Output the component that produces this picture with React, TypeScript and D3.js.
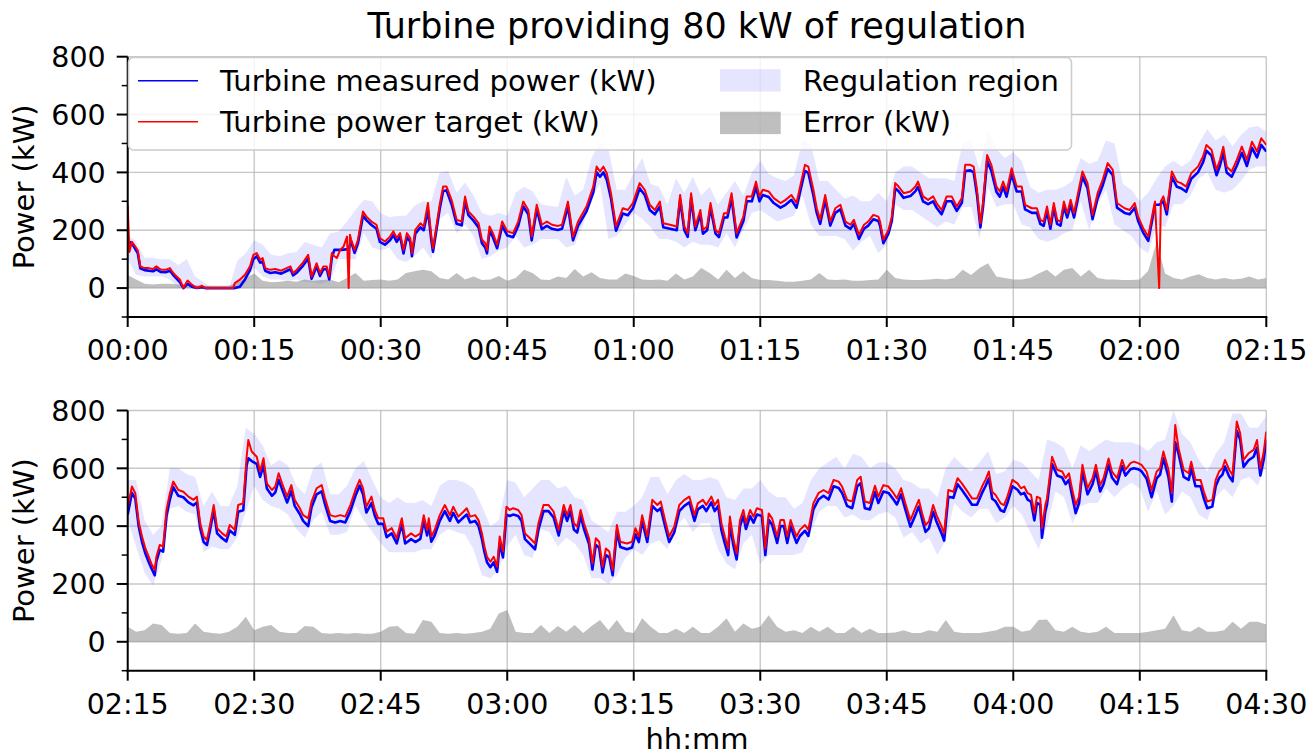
import React from "react";
import * as d3 from "d3";

// ---------- DATA ----------
const title = "Turbine providing 80 kW of regulation";
const yLabel = "Power (kW)";
const xLabel = "hh:mm";
const tickMinutes = [0, 15, 30, 45, 60, 75, 90, 105, 120, 135];
const topTickLabels = ["00:00", "00:15", "00:30", "00:45", "01:00", "01:15", "01:30", "01:45", "02:00", "02:15"];
const bottomTickLabels = ["02:15", "02:30", "02:45", "03:00", "03:15", "03:30", "03:45", "04:00", "04:15", "04:30"];
const yMajorTicks = [0, 200, 400, 600, 800];
const yMinorTicks = [-100, 100, 300, 500, 700];

// [minute, target kW, measured kW]
const topRows: [number, number, number][] = [
  [0, 288, 165], [0.2, 125, 160], [0.5, 160, 155], [0.8, 148, 140], [1.2, 130, 120], [1.5, 75, 68], [2, 69, 62], [2.5, 69, 60],
  [3, 66, 58], [3.4, 75, 65], [3.9, 64, 56], [4.5, 63, 55], [5, 69, 60], [5.4, 52, 45], [5.8, 40, 33], [6.2, 29, 20],
  [6.6, 0, 0], [7.1, 26, 15], [7.6, 12, 5], [8.2, 0, 0], [8.8, 8, 3], [9.2, 0, 0], [12.5, 0, 0], [12.7, 17, 0],
  [13.3, 29, 5], [13.9, 46, 30], [14.5, 75, 62], [14.9, 115, 100], [15.3, 121, 110], [15.7, 98, 88], [16, 104, 92], [16.3, 69, 60],
  [16.9, 63, 52], [17.5, 66, 55], [18.2, 60, 50], [18.9, 70, 60], [19.3, 75, 65], [19.6, 52, 44], [20, 62, 52], [20.4, 75, 65],
  [20.8, 89, 78], [21.4, 115, 102], [21.8, 40, 32], [22.4, 86, 75], [22.8, 52, 42], [23.2, 75, 65], [23.6, 75, 65], [23.9, 40, 30],
  [24.2, 121, 105], [24.5, 110, 132], [24.8, 104, 132], [25.2, 132, 132], [25.6, 144, 133], [26, 178, 134], [26.2, 0, 134], [26.35, 184, 150],
  [26.5, 167, 160], [26.9, 132, 122], [27.3, 167, 155], [27.9, 265, 250], [28.3, 247, 235], [28.9, 230, 218], [29.5, 219, 205], [29.9, 173, 160],
  [30.5, 161, 150], [31.1, 178, 165], [31.5, 196, 183], [31.9, 173, 160], [32.3, 190, 178], [32.7, 132, 120], [33.1, 190, 176], [33.5, 173, 160],
  [33.7, 121, 110], [34.1, 201, 188], [34.7, 224, 210], [35.1, 213, 200], [35.6, 294, 270], [36, 178, 165], [36.2, 138, 125], [36.6, 213, 200],
  [37, 290, 275], [37.4, 351, 335], [37.8, 351, 338], [38.4, 305, 290], [39, 236, 222], [39.6, 230, 217], [40, 317, 300], [40.4, 265, 252],
  [41, 247, 233], [41.6, 224, 210], [42, 167, 155], [42.4, 155, 140], [42.6, 132, 120], [42.9, 213, 198], [43.3, 190, 176], [43.8, 150, 138],
  [44.4, 230, 215], [45, 196, 182], [45.7, 190, 176], [46.3, 230, 215], [46.9, 299, 282], [47.5, 270, 255], [47.9, 178, 165], [48.5, 288, 272],
  [49.1, 219, 204], [49.7, 230, 215], [50.3, 219, 205], [51, 215, 201], [51.5, 219, 205], [52.2, 299, 282], [52.8, 178, 165], [53.4, 230, 215],
  [54.4, 282, 265], [55.2, 351, 330], [55.6, 420, 400], [56, 403, 385], [56.4, 420, 400], [56.8, 397, 375], [57.3, 328, 310], [57.9, 213, 198],
  [58.7, 276, 258], [59.3, 270, 252], [59.9, 294, 276], [60.7, 363, 345], [61.3, 340, 322], [61.9, 288, 270], [62.5, 270, 255], [63.1, 299, 282],
  [63.5, 224, 210], [64.3, 219, 205], [65.1, 213, 200], [65.5, 322, 305], [66, 213, 200], [66.4, 190, 177], [66.8, 328, 310], [67.3, 213, 200],
  [67.9, 270, 255], [68.2, 201, 188], [68.7, 213, 200], [69.1, 294, 278], [69.7, 201, 188], [70.1, 190, 176], [70.7, 259, 244], [71.1, 259, 244],
  [71.6, 328, 310], [72.2, 190, 175], [73, 247, 232], [73.4, 317, 300], [74, 317, 300], [74.5, 368, 350], [74.9, 317, 300], [75.3, 340, 322],
  [76, 334, 315], [76.6, 311, 294], [77.4, 294, 278], [78, 305, 288], [78.7, 322, 305], [79.3, 294, 278], [79.9, 374, 355], [80.3, 426, 405],
  [80.7, 420, 398], [81.3, 340, 320], [81.7, 276, 260], [82.1, 236, 222], [82.7, 322, 305], [83.3, 230, 216], [83.9, 276, 260], [84.5, 288, 272],
  [85.1, 230, 216], [85.7, 219, 205], [86.1, 236, 222], [86.7, 184, 170], [87.3, 219, 205], [87.8, 230, 216], [88.4, 253, 238], [89, 247, 232],
  [89.2, 230, 216], [89.6, 167, 155], [90.2, 201, 188], [90.6, 247, 232], [91, 363, 345], [91.4, 351, 335], [92, 328, 312], [92.8, 334, 318],
  [93.4, 351, 335], [93.7, 368, 350], [94.3, 317, 300], [94.9, 305, 290], [95.5, 317, 300], [95.9, 294, 278], [96.5, 270, 255], [97.1, 317, 300],
  [97.7, 317, 300], [98.3, 282, 267], [98.9, 311, 295], [99.3, 426, 405], [99.9, 426, 407], [100.3, 420, 400], [100.7, 340, 322], [101.1, 224, 210],
  [101.4, 294, 278], [101.9, 460, 440], [102.4, 426, 405], [103, 351, 333], [103.4, 334, 316], [103.8, 368, 350], [104.2, 334, 316], [104.8, 414, 395],
  [105.4, 351, 334], [106, 351, 334], [106.4, 288, 272], [107.2, 276, 260], [107.8, 276, 260], [108.2, 236, 222], [108.6, 230, 215], [109, 282, 266],
  [109.4, 219, 205], [109.8, 294, 278], [110.2, 236, 222], [110.6, 230, 216], [111, 299, 282], [111.4, 259, 244], [111.8, 305, 288], [112.2, 259, 244],
  [112.6, 317, 300], [113.2, 403, 385], [113.8, 363, 345], [114.4, 253, 238], [115, 328, 310], [115.6, 374, 355], [116.2, 432, 412], [116.8, 409, 390],
  [117.3, 294, 278], [118.2, 276, 260], [118.8, 270, 255], [119.4, 294, 278], [119.8, 247, 232], [120.4, 207, 192], [121, 178, 163], [121.6, 270, 255],
  [121.8, 299, 288], [122.3, 0, 288], [122.5, 300, 292], [122.8, 317, 300], [123.2, 270, 255], [123.8, 403, 385], [124.4, 368, 350], [124.9, 363, 345],
  [125.5, 351, 333], [126.1, 397, 378], [126.9, 420, 400], [127.5, 455, 435], [127.9, 495, 475], [128.5, 478, 458], [129.1, 409, 390], [129.5, 443, 423],
  [129.9, 489, 468], [130.3, 420, 400], [130.9, 403, 385], [131.5, 443, 423], [132.1, 489, 468], [132.7, 443, 422], [133.3, 506, 485], [133.9, 472, 452],
  [134.4, 518, 495], [135, 495, 472],
];

const bottomRows: [number, number, number][] = [
  [0, 467, 440], [0.5, 537, 515], [0.9, 514, 495], [1.3, 415, 400], [1.7, 364, 345], [2.1, 323, 305], [2.5, 294, 275], [2.8, 271, 255],
  [3.2, 248, 230], [3.4, 294, 278], [3.8, 335, 318], [4.2, 329, 312], [4.6, 456, 435], [5, 514, 492], [5.4, 554, 535], [6, 525, 505],
  [6.6, 519, 500], [7.2, 502, 482], [7.8, 491, 472], [8.2, 502, 482], [8.6, 410, 392], [9, 364, 345], [9.4, 352, 335], [9.8, 410, 392],
  [10.2, 473, 455], [10.6, 393, 375], [11.2, 375, 358], [11.7, 364, 347], [12.1, 404, 385], [12.7, 387, 370], [13.1, 473, 450], [13.7, 479, 455],
  [14.1, 640, 610], [14.3, 698, 635], [14.7, 658, 625], [15.3, 640, 615], [15.7, 589, 570], [16.1, 635, 610], [16.5, 548, 530], [17.1, 525, 505],
  [17.5, 537, 517], [17.9, 583, 560], [18.3, 548, 528], [18.9, 502, 482], [19.4, 542, 522], [19.8, 491, 470], [20.4, 462, 442], [20.8, 438, 418],
  [21.4, 427, 400], [21.8, 485, 465], [22.4, 531, 510], [23, 542, 520], [23.4, 496, 475], [24, 438, 418], [24.6, 433, 413], [25.2, 438, 418],
  [25.8, 433, 413], [26.4, 473, 452], [27, 525, 505], [27.5, 560, 540], [27.9, 531, 510], [28.3, 467, 447], [28.9, 502, 480], [29.3, 456, 436],
  [29.7, 427, 408], [30.3, 427, 408], [30.7, 381, 362], [31.3, 393, 375], [31.9, 358, 340], [32.5, 427, 408], [32.9, 358, 340], [33.6, 375, 355],
  [34.1, 364, 345], [34.7, 375, 356], [35.1, 438, 418], [35.5, 387, 368], [35.7, 427, 405], [36, 364, 346], [36.4, 387, 368], [37, 438, 418],
  [37.6, 473, 452], [38.2, 438, 418], [38.6, 467, 446], [39.2, 433, 413], [39.8, 450, 430], [40.2, 462, 440], [40.6, 433, 413], [41.2, 438, 418],
  [41.6, 420, 400], [42, 375, 355], [42.3, 330, 310], [42.6, 294, 275], [43, 277, 258], [43.4, 294, 275], [43.8, 260, 242], [44.1, 364, 340],
  [44.5, 312, 292], [44.9, 467, 440], [45.3, 456, 435], [45.7, 462, 440], [46.3, 456, 435], [46.7, 438, 418], [47.1, 375, 355], [47.7, 358, 338],
  [48.3, 340, 320], [48.7, 410, 388], [49.3, 473, 452], [49.9, 473, 452], [50.5, 450, 430], [51.1, 387, 368], [51.7, 473, 452], [52.1, 438, 418],
  [52.5, 473, 452], [52.9, 410, 388], [53.3, 398, 378], [53.7, 456, 435], [54.1, 410, 390], [54.7, 358, 338], [55.1, 271, 250], [55.5, 358, 335],
  [55.9, 346, 325], [56.3, 260, 240], [56.7, 323, 300], [57.1, 312, 292], [57.5, 248, 230], [58, 404, 382], [58.4, 346, 328], [59.2, 340, 320],
  [59.8, 346, 326], [60.2, 393, 372], [60.6, 364, 345], [61, 438, 418], [61.6, 364, 345], [62.2, 491, 470], [62.8, 473, 452], [63.2, 485, 462],
  [63.8, 410, 390], [64.2, 364, 345], [64.8, 398, 378], [65.4, 473, 452], [66, 491, 470], [66.6, 502, 482], [67.2, 438, 418], [67.6, 479, 458],
  [68.2, 491, 470], [68.6, 473, 452], [69.2, 502, 482], [69.6, 473, 452], [70, 491, 470], [70.4, 410, 385], [70.8, 364, 340], [71.2, 323, 300],
  [71.4, 433, 410], [71.8, 358, 335], [72.2, 306, 285], [72.6, 421, 400], [73, 456, 435], [73.3, 410, 390], [73.8, 456, 435], [74.2, 433, 412],
  [74.6, 462, 440], [75.2, 456, 435], [75.6, 323, 300], [76, 444, 422], [76.4, 427, 405], [77, 364, 342], [77.4, 421, 400], [77.8, 421, 400],
  [78.2, 364, 342], [78.6, 421, 400], [79, 387, 366], [79.3, 364, 342], [79.7, 387, 366], [80.3, 404, 384], [80.7, 387, 366], [81.3, 479, 458],
  [81.9, 514, 492], [82.5, 525, 505], [83.1, 514, 492], [83.7, 560, 538], [84.3, 554, 532], [84.7, 537, 515], [85.3, 491, 470], [85.9, 485, 462],
  [86.5, 560, 538], [86.9, 571, 548], [87.4, 485, 462], [88, 480, 458], [88.6, 540, 518], [89, 502, 480], [89.6, 542, 520], [90.2, 537, 515],
  [90.8, 514, 492], [91.2, 496, 475], [91.7, 531, 510], [92.2, 479, 458], [92.8, 421, 398], [93.3, 456, 432], [93.8, 491, 468], [94.2, 444, 422],
  [94.6, 404, 380], [95, 416, 392], [95.5, 473, 450], [95.9, 438, 415], [96.5, 398, 375], [96.8, 375, 350], [97.3, 525, 502], [97.9, 519, 498],
  [98.4, 566, 545], [98.9, 548, 526], [99.7, 514, 492], [100.1, 496, 474], [100.7, 496, 474], [101.3, 537, 515], [101.7, 560, 538], [102.1, 589, 565],
  [102.5, 519, 495], [102.9, 508, 486], [103.5, 479, 455], [103.9, 473, 450], [104.3, 502, 480], [104.9, 560, 538], [105.5, 548, 526], [105.9, 531, 510],
  [106.3, 537, 515], [106.7, 514, 492], [107.1, 508, 485], [107.5, 444, 420], [107.8, 502, 480], [108.2, 496, 474], [108.4, 393, 360], [108.8, 473, 450],
  [109, 496, 475], [109.6, 640, 615], [110.2, 595, 575], [110.8, 589, 568], [111.2, 566, 545], [111.6, 583, 560], [112, 525, 502], [112.4, 473, 445],
  [112.8, 502, 480], [113.2, 612, 590], [113.8, 531, 510], [114.4, 566, 545], [114.8, 612, 590], [115.3, 542, 520], [115.7, 566, 545], [116.3, 634, 612],
  [116.7, 589, 568], [117.3, 566, 545], [117.9, 629, 608], [118.3, 595, 575], [118.9, 618, 597], [119.3, 623, 600], [119.8, 618, 597], [120.2, 612, 590],
  [120.8, 589, 565], [121.4, 525, 500], [122, 589, 565], [122.4, 600, 578], [122.8, 658, 635], [123.4, 595, 570], [123.8, 514, 485], [124.2, 750, 690],
  [124.6, 669, 650], [125.2, 595, 570], [125.8, 583, 560], [126.1, 623, 600], [126.6, 560, 538], [127.2, 560, 538], [127.6, 519, 495], [128, 485, 462],
  [128.6, 491, 468], [129, 560, 538], [129.4, 589, 566], [129.8, 600, 578], [130.1, 629, 606], [130.6, 595, 572], [131, 577, 555], [131.5, 762, 730],
  [131.9, 721, 700], [132.3, 629, 605], [132.9, 652, 628], [133.5, 664, 640], [133.9, 698, 672], [134.3, 600, 575], [134.7, 658, 632], [135, 727, 700],
];

// Regulation region, one value per minute (0..135)
const topRegHigh = [
  185, 160, 105, 105, 100, 100, 80, 100, 40, 20,
  0, 0, 0, 95, 120, 165, 150, 115, 110, 120,
  125, 160, 150, 140, 190, 195, 230, 270, 305, 300,
  260, 245, 250, 250, 285, 300, 300, 400, 405, 330,
  365, 320, 260, 250, 260, 250, 330, 350, 335, 290,
  285, 280, 385, 320, 340, 450, 505, 480, 340, 340,
  400, 450, 360, 350, 290, 380, 330, 385, 320, 350,
  290, 330, 370, 320, 400, 440, 395, 380, 370, 390,
  510, 500, 370, 370, 340, 310, 320, 300, 300, 330,
  300, 400, 420, 420, 400, 380, 380, 380, 370, 500,
  510, 410, 545, 480, 450, 470, 440, 350, 330, 340,
  340, 350, 370, 450, 430, 440, 510, 500, 360, 340,
  300, 330, 380, 420, 440, 420, 440, 500, 550, 510,
  530, 490, 530, 555, 560, 540,
];
const topRegLow = [
  100, 45, 40, 40, 40, 30, 0, 0, 0, 0,
  0, 0, 0, 0, 20, 70, 40, 30, 30, 25,
  30, 20, 20, 15, 25, 100, 100, 100, 190, 140,
  130, 140, 100, 90, 110, 140, 100, 240, 260, 190,
  220, 180, 100, 110, 130, 140, 180, 140, 150, 170,
  170, 170, 140, 150, 220, 310, 360, 170, 180, 220,
  260, 240, 210, 170, 170, 160, 140, 160, 150, 150,
  140, 190, 140, 200, 260, 270, 250, 230, 240, 250,
  320, 220, 180, 180, 180, 170, 130, 160, 180, 120,
  150, 290, 270, 270, 250, 230, 210, 230, 220, 280,
  280, 170, 350, 280, 290, 290, 220, 210, 170, 160,
  170, 190, 200, 300, 200, 290, 340, 220, 200, 180,
  140, 120, 220, 210, 290, 290, 320, 380, 400, 340,
  330, 340, 370, 410, 420, 420,
];
const bottomRegHigh = [
  560, 560, 420, 370, 400, 600, 600, 580, 570, 470,
  520, 470, 470, 540, 740, 720, 680, 610, 630, 610,
  540, 510, 600, 620, 510, 510, 540, 600, 625, 560,
  500, 480, 500, 480, 480, 490, 470, 540, 560, 560,
  550, 530, 470, 400, 420, 560, 550, 500, 530, 560,
  560, 530, 540, 500, 490, 420, 400, 380, 450, 450,
  470, 500, 570, 570, 510, 560, 580, 560, 560, 570,
  560, 500, 490, 530, 530, 560, 520, 500, 500, 460,
  480, 560, 600, 620, 640, 600, 650, 640, 600, 620,
  620, 600, 560, 550, 530, 530, 500, 600, 640, 610,
  590, 620, 660, 580, 590, 630, 620, 590, 560, 700,
  690, 670, 600, 680, 660, 680, 700, 690, 690, 690,
  680, 660, 690, 700, 800, 720, 690, 630, 590, 650,
  690, 790, 790, 740, 740, 780,
];
const bottomRegLow = [
  420, 330, 240, 195, 280, 460, 470, 450, 440, 310,
  330, 320, 320, 360, 450, 540, 490, 470, 460, 440,
  390, 360, 420, 450, 370, 370, 380, 470, 420, 380,
  340, 310, 310, 310, 310, 320, 320, 370, 390, 380,
  370, 320, 230, 220, 250, 330, 370, 300, 290, 390,
  380, 330, 360, 340, 300, 220, 220, 200, 230, 290,
  320, 300, 340, 350, 320, 400, 430, 380, 410, 410,
  320, 270, 250, 340, 370, 270, 300, 300, 300, 300,
  310, 380, 450, 470, 470, 430, 440, 420, 420, 440,
  450, 430, 360, 380, 340, 360, 300, 350, 480, 450,
  430, 460, 460, 410, 430, 470, 440, 380, 320, 400,
  520, 500, 410, 470, 480, 480, 530, 500, 530, 550,
  530, 450, 520, 440, 470, 520, 500, 440, 420, 500,
  530, 500, 560, 570, 540, 620,
];

// Error (kW), one value per minute (0..135)
const topError = [
  45, 30, 15, 12, 15, 15, 12, 15, 10, 8,
  8, 8, 8, 20, 35, 50, 25, 20, 22, 25,
  22, 30, 25, 28, 30, 20, 35, 52, 25, 28,
  30, 25, 30, 52, 58, 63, 58, 35, 30, 52,
  30, 40, 28, 30, 42, 25, 35, 63, 52, 30,
  28, 40, 35, 66, 40, 55, 35, 30, 30, 50,
  42, 30, 28, 30, 25, 50, 30, 40, 69, 52,
  30, 63, 35, 58, 35, 28, 28, 25, 22, 22,
  25, 30, 52, 30, 28, 30, 25, 25, 28, 30,
  63, 35, 30, 28, 28, 30, 32, 30, 35, 63,
  45, 69, 86, 40, 35, 30, 30, 35, 50, 63,
  40, 63, 69, 40, 63, 35, 30, 30, 28, 28,
  30, 60, 160, 50, 35, 30, 40, 48, 35, 30,
  35, 30, 32, 40, 30, 35,
];
const bottomError = [
  52, 35, 40, 63, 58, 30, 28, 30, 63, 35,
  30, 28, 35, 52, 87, 40, 52, 58, 35, 30,
  30, 55, 52, 30, 28, 30, 28, 30, 28, 28,
  35, 52, 55, 30, 28, 75, 69, 30, 28, 30,
  28, 30, 35, 45, 98, 110, 35, 30, 30, 58,
  30, 55, 35, 58, 30, 55, 75, 40, 75, 35,
  30, 81, 52, 30, 30, 45, 30, 52, 30, 30,
  52, 81, 35, 63, 45, 52, 92, 52, 35, 40,
  30, 52, 35, 52, 30, 30, 52, 30, 45, 30,
  30, 32, 40, 30, 30, 40, 35, 75, 35, 30,
  30, 30, 35, 40, 52, 52, 35, 40, 75, 77,
  40, 35, 52, 35, 30, 35, 52, 30, 30, 30,
  30, 35, 40, 45, 92, 40, 35, 52, 35, 35,
  40, 69, 45, 69, 69, 60,
];

// ---------- LAYOUT ----------
const W = 1310;
const H = 754;
const FONT = "DejaVu Sans";
const TICK_FS = 28.5;
const LABEL_FS = 29;
const x0 = 127.7;
const x1 = 1266.3;
const topPanel = { top: 56.7, bottom: 317, labels: topTickLabels, rows: topRows, hi: topRegHigh, lo: topRegLow, err: topError, id: "top" };
const bottomPanel = { top: 410.5, bottom: 670.7, labels: bottomTickLabels, rows: bottomRows, hi: bottomRegHigh, lo: bottomRegLow, err: bottomError, id: "bot" };

type PanelDef = typeof topPanel;

function Panel({ p, showXLabel }: { p: PanelDef; showXLabel: boolean }) {
  const x = d3.scaleLinear().domain([0, 135]).range([x0, x1]);
  const y = d3.scaleLinear().domain([-100, 800]).range([p.bottom, p.top]);
  const minutes = d3.range(0, p.hi.length);

  const band = d3
    .area<number>()
    .x((m) => x(m))
    .y0((m) => y(p.lo[m]))
    .y1((m) => y(p.hi[m]))(minutes) as string;
  const err = d3
    .area<number>()
    .x((m) => x(m))
    .y0(y(0))
    .y1((m) => y(p.err[m]))(minutes) as string;
  const meas = d3
    .line<[number, number, number]>()
    .x((d) => x(d[0]))
    .y((d) => y(d[2]))(p.rows) as string;
  const targ = d3
    .line<[number, number, number]>()
    .x((d) => x(d[0]))
    .y((d) => y(d[1]))(p.rows) as string;

  const clipId = `clip-${p.id}`;
  const midY = (p.top + p.bottom) / 2;
  return (
    <g>
      <defs>
        <clipPath id={clipId}>
          <rect x={x0} y={p.top} width={x1 - x0} height={p.bottom - p.top} />
        </clipPath>
      </defs>
      {tickMinutes.map((m) => (
        <line key={"gx" + m} x1={x(m)} x2={x(m)} y1={p.top} y2={p.bottom} stroke="#b0b0b0" strokeOpacity={0.7} strokeWidth={1.4} />
      ))}
      {yMajorTicks.map((v) => (
        <line key={"gy" + v} x1={x0} x2={x1} y1={y(v)} y2={y(v)} stroke="#b0b0b0" strokeOpacity={0.7} strokeWidth={1.4} />
      ))}
      <g clipPath={`url(#${clipId})`}>
        <path d={band} fill="blue" fillOpacity={0.1} stroke="none" />
        <path d={err} fill="gray" fillOpacity={0.5} stroke="none" />
        <path d={meas} fill="none" stroke="#0000ff" strokeWidth={2.6} strokeLinejoin="round" />
        <path d={targ} fill="none" stroke="#ff0000" strokeWidth={2} strokeLinejoin="round" />
      </g>
      <line x1={x0} x2={x0} y1={p.top} y2={p.bottom + 1} stroke="#000" strokeWidth={2} />
      <line x1={x0 - 1} x2={x1 + 1} y1={p.bottom} y2={p.bottom} stroke="#000" strokeWidth={2} />
      {yMajorTicks.map((v) => (
        <g key={"yt" + v}>
          <line x1={x0 - 11} x2={x0} y1={y(v)} y2={y(v)} stroke="#000" strokeWidth={2} />
          <text x={x0 - 22} y={y(v)} dy="0.36em" textAnchor="end" fontFamily={FONT} fontSize={TICK_FS} fill="#000">
            {v}
          </text>
        </g>
      ))}
      {yMinorTicks.map((v) => (
        <line key={"ym" + v} x1={x0 - 6} x2={x0} y1={y(v)} y2={y(v)} stroke="#000" strokeWidth={1.5} />
      ))}
      {tickMinutes.map((m, i) => (
        <g key={"xt" + m}>
          <line x1={x(m)} x2={x(m)} y1={p.bottom} y2={p.bottom + 10} stroke="#000" strokeWidth={2} />
          <text x={x(m)} y={p.bottom + 43} textAnchor="middle" fontFamily={FONT} fontSize={TICK_FS} fill="#000">
            {p.labels[i]}
          </text>
        </g>
      ))}
      <text transform={`translate(34,${midY}) rotate(-90)`} textAnchor="middle" fontFamily={FONT} fontSize={LABEL_FS} fill="#000">
        {yLabel}
      </text>
      {showXLabel && (
        <text x={(x0 + x1) / 2} y={p.bottom + 78} textAnchor="middle" fontFamily={FONT} fontSize={LABEL_FS} fill="#000">
          {xLabel}
        </text>
      )}
    </g>
  );
}

function Legend() {
  return (
    <g fontFamily={FONT} fontSize={LABEL_FS} fill="#000">
      <rect x={128.5} y={57.5} width={943} height={92.5} rx={5} fill="#fff" fillOpacity={0.8} stroke="#cccccc" strokeWidth={1.5} />
      <line x1={138} x2={198} y1={80.7} y2={80.7} stroke="#0000ff" strokeWidth={1.6} />
      <text x={220} y={90.8}>Turbine measured power (kW)</text>
      <line x1={138} x2={198} y1={121.7} y2={121.7} stroke="#ff0000" strokeWidth={1.6} />
      <text x={220} y={131.8}>Turbine power target (kW)</text>
      <rect x={720} y={69.2} width={60.7} height={22.4} fill="blue" fillOpacity={0.1} />
      <text x={803} y={90.8}>Regulation region</text>
      <rect x={720} y={111.7} width={60.7} height={22.4} fill="gray" fillOpacity={0.5} />
      <text x={803} y={131.8}>Error (kW)</text>
    </g>
  );
}

export default function App() {
  return (
    <svg width={W} height={H} viewBox={`0 0 ${W} ${H}`} style={{ position: "absolute", left: 0, top: 0, background: "#fff" }}>
      <rect x={0} y={0} width={W} height={H} fill="#fff" />
      <text x={(x0 + x1) / 2} y={38.2} textAnchor="middle" fontFamily={FONT} fontSize={35} fill="#000">
        {title}
      </text>
      <Panel p={topPanel} showXLabel={false} />
      <Panel p={bottomPanel} showXLabel={true} />
      <Legend />
    </svg>
  );
}
